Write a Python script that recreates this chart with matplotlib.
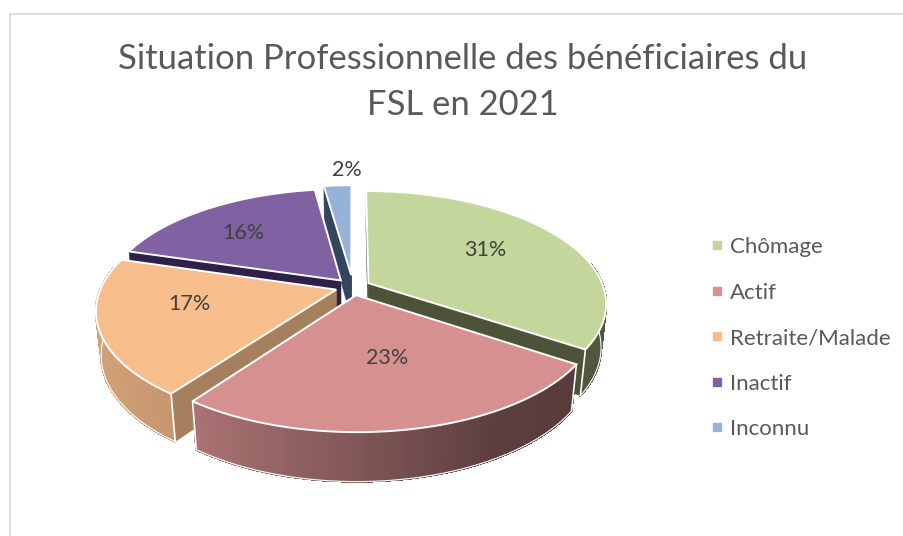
import numpy as np
import matplotlib
matplotlib.use("Agg")
import matplotlib.pyplot as plt
from matplotlib.collections import PolyCollection
from matplotlib.lines import Line2D

plt.rcParams['font.family'] = ['Lato', 'DejaVu Sans']

title = "Situation Professionnelle des bénéficiaires du\nFSL en 2021"
categories = ["Chômage", "Actif", "Retraite/Malade", "Inactif", "Inconnu"]
values = [30.6, 22.9, 17.4, 16.2, 2.0]

top_colors = ["#c3d69b", "#d69090", "#f7bd8b", "#8062a2", "#95b3d7"]
wall_colors = ["#4c5339", "#5a3c3c", "#a67f5f", "#2e2046", "#33465d"]
draw_order = [4, 3, 0, 2, 1]
explode = [0.075, 0.075, 0.075, 0.08, 0.11]
label_radius = [0.62, 0.52, 0.62, 0.66, 1.2]
label_shift = [-3, -3, 7, -3, 3]

# pixel layout of the fake 3d pie
CX, CY = 353, 287
R, A = 235, 109.6
PERSP = 0.176
DEPTH = 44


def project(x, y, z=0.0):
    # x right, y to the back, z=0 top face, z=1 bottom face
    s = 1 / (1 + PERSP * y + 0.02 * z)
    return CX + R * x * s, CY - A * y * s + DEPTH * z * s


def disc(theta):
    return np.sin(np.deg2rad(theta)), np.cos(np.deg2rad(theta))


def shade(color, theta):
    f = np.interp(np.sin(np.deg2rad(theta)), [-1, -0.6, 0, 0.5, 1], [0.86, 0.8, 0.6, 0.43, 0.4])
    return tuple(c * f for c in matplotlib.colors.to_rgb(color))


fig = plt.figure(figsize=(9.04, 5.36), dpi=100)
ax = fig.add_axes([0, 0, 1, 1])
ax.set_xlim(0, 904)
ax.set_ylim(536, 0)
ax.axis("off")

# chart frame, only top and left show in the crop
ax.plot([10, 10, 904], [536, 14, 14], color="#d9d9d9", lw=1.3)

edges = np.cumsum([0] + values) / sum(values) * 360

for i in draw_order:
    t0, t1 = edges[i], edges[i + 1]
    mid = (t0 + t1) / 2
    ox, oy = np.array(disc(mid)) * explode[i]
    th = np.linspace(t0, t1, max(int(t1 - t0), 4) + 1)
    xs, ys = disc(th)
    xs, ys = xs + ox, ys + oy

    # radial walls
    for t in (t0, t1):
        ex, ey = disc(t)
        quad = [project(ox, oy), project(ox + ex, oy + ey), project(ox + ex, oy + ey, 1), project(ox, oy, 1)]
        ax.fill(*zip(*quad), color=wall_colors[i], lw=0.3, zorder=2)

    # outer side, only the part that faces the viewer, small quads for the gradient
    tx, ty = project(xs, ys)
    bx, by = project(xs, ys, 1)
    front = np.where(np.cos(np.deg2rad(th)) < 0.2)[0]
    if len(front) > 1:
        quads = []
        cols = []
        for j in front[:-1]:
            quads.append([(tx[j], ty[j]), (tx[j + 1], ty[j + 1]), (bx[j + 1], by[j + 1]), (bx[j], by[j])])
            cols.append(shade(top_colors[i], (th[j] + th[j + 1]) / 2))
        ax.add_collection(PolyCollection(quads, facecolors=cols, edgecolors=cols, linewidths=1,
                                         antialiaseds=False, zorder=2))
        ax.plot(bx[front], by[front], color="white", lw=0.8, zorder=2)
        for j in (front[0], front[-1]):
            if j in (0, len(th) - 1):
                ax.plot([tx[j], bx[j]], [ty[j], by[j]], color="white", lw=1.2, zorder=2)

    # top face
    ax0, ay0 = project(ox, oy)
    ax.fill(np.r_[ax0, tx], np.r_[ay0, ty], facecolor=top_colors[i], edgecolor="white", lw=1.4, zorder=2,
            joinstyle="miter")

    lx, ly = disc(mid + label_shift[i])
    px, py = project(ox + lx * label_radius[i], oy + ly * label_radius[i])
    ax.text(px, py, "%.0f%%" % values[i], ha="center", va="center", fontsize=15.5, color="#404040", zorder=3)

ax.text(463, 82, title, ha="center", va="center", fontsize=24.95, color="#595959", linespacing=1.52)

handles = [Line2D([], [], ls="", marker="s", ms=5.8, mfc=c, mec=c) for c in top_colors]
ax.legend(handles, categories, loc="upper left", bbox_to_anchor=(708, 237), bbox_transform=ax.transData,
          frameon=False, fontsize=16, labelcolor="#595959", handlelength=0.8, handletextpad=0.19,
          labelspacing=1.15, borderpad=0, borderaxespad=0)

plt.savefig("out.png", dpi=100)
